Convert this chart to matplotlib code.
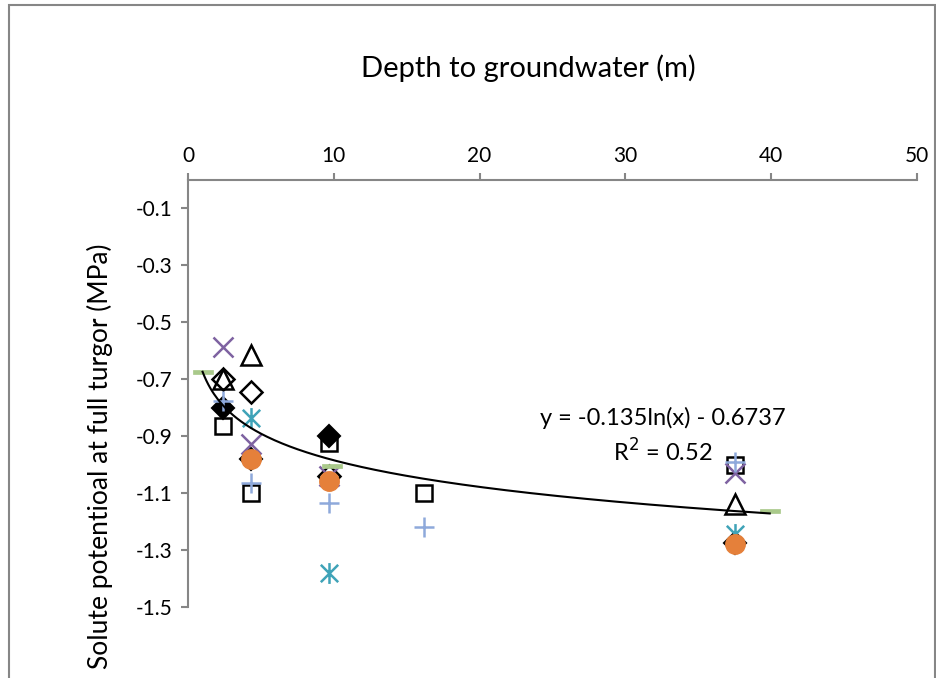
import numpy as np
import matplotlib
matplotlib.use("Agg")
import matplotlib.pyplot as plt
from matplotlib.path import Path
from matplotlib.patches import Rectangle

plt.rcParams['font.family'] = ['Lato', 'DejaVu Sans']

# ---- data ----
sq_x = [2.4, 4.3, 9.7, 16.2, 37.5]
sq_y = [-0.863, -1.10, -0.925, -1.10, -1.0]
fd_x = [2.4, 4.3, 9.7, 37.5]
fd_y = [-0.80, -0.98, -0.90, -1.275]
tri_x = [2.4, 4.3, 37.5]
tri_y = [-0.70, -0.616, -1.137]
cross_x = [2.4, 4.3, 9.7, 37.5]
cross_y = [-0.585, -0.926, -1.04, -1.03]
ast_x = [4.3, 9.7, 37.5]
ast_y = [-0.835, -1.38, -1.243]
circ_x = [4.3, 9.7, 37.5]
circ_y = [-0.98, -1.056, -1.28]
plus_x = [2.4, 4.3, 9.7, 16.2, 37.5]
plus_y = [-0.775, -1.063, -1.134, -1.22, -0.99]
od_x = [2.4, 4.3, 9.7]
od_y = [-0.70, -0.746, -1.04]
dash_x = [1.0, 9.9, 39.9]
dash_y = [-0.676, -1.003, -1.162]

trend_a = -0.135
trend_b = -0.6737
equation = "y = -0.135ln(x) - 0.6737"
r2_text = "R$^2$ = 0.52"

xticks = [0, 10, 20, 30, 40, 50]
yticks = [-0.1, -0.3, -0.5, -0.7, -0.9, -1.1, -1.3, -1.5]
ytick_labels = ["-0.1", "-0.3", "-0.5", "-0.7", "-0.9", "-1.1", "-1.3", "-1.5"]

# ---- figure ----
W, H = 937, 678
fig = plt.figure(figsize=(W / 100, H / 100), dpi=100)
ax = fig.add_axes([188 / W, 1 - 607 / H, (917 - 188) / W, (607 - 180) / H])
ax.patch.set_alpha(0)

gray = '#868686'
ax.set_xlim(0, 50)
ax.set_ylim(-1.5, 0)
ax.xaxis.tick_top()
ax.spines['bottom'].set_visible(False)
ax.spines['right'].set_visible(False)
for s in ('top', 'left'):
    ax.spines[s].set_color(gray)
    ax.spines[s].set_linewidth(1.5)
ax.set_xticks(xticks)
ax.set_yticks(yticks)
ax.set_yticklabels(ytick_labels)
ax.tick_params(axis='both', direction='out', length=5, width=1.5, color=gray,
               labelsize=15, pad=6)
ax.tick_params(axis='x', pad=5)

# asterisk marker (x plus vertical bar)
ast_path = Path([(-0.5, -0.5), (0.5, 0.5), (-0.5, 0.5), (0.5, -0.5), (0, -0.6), (0, 0.6)],
                [Path.MOVETO, Path.LINETO, Path.MOVETO, Path.LINETO, Path.MOVETO, Path.LINETO])
dash_path = Path([(-0.5, -0.12), (0.5, -0.12), (0.5, 0.12), (-0.5, 0.12), (-0.5, -0.12)],
                 [Path.MOVETO, Path.LINETO, Path.LINETO, Path.LINETO, Path.CLOSEPOLY])

ax.plot(sq_x, sq_y, ls='none', marker='s', ms=12, mfc='none', mec='black', mew=1.8, zorder=3, clip_on=False)
ax.plot(fd_x, fd_y, ls='none', marker='D', ms=11, mfc='black', mec='black', mew=1.5, zorder=4, clip_on=False)
ax.plot(od_x, od_y, ls='none', marker='D', ms=11, mfc='none', mec='black', mew=1.8, zorder=4.5, clip_on=False)
ax.plot(tri_x, tri_y, ls='none', marker='^', ms=14, mfc='none', mec='black', mew=1.8, zorder=5, clip_on=False)
ax.plot(cross_x, cross_y, ls='none', marker='x', ms=15, mec='#7E62A1', mew=1.8, zorder=6, clip_on=False)
ax.plot(ast_x, ast_y, ls='none', marker=ast_path, ms=15, mec='#3FA3B8', mfc='none', mew=1.8, zorder=7, clip_on=False)
ax.plot(circ_x, circ_y, ls='none', marker='o', ms=14, mfc='#E5803A', mec='#E5803A', mew=1, zorder=8, clip_on=False)
ax.plot(plus_x, plus_y, ls='none', marker='+', ms=14, mec='#8EA9DB', mew=1.8, zorder=9, clip_on=False)
ax.plot(dash_x, dash_y, ls='none', marker=dash_path, ms=15, mfc='#A9C98A', mec='#A9C98A', mew=0.5, zorder=11, clip_on=False)

all_x = sq_x + fd_x + tri_x + cross_x + ast_x + circ_x + plus_x + od_x + dash_x
tx = np.linspace(min(all_x), max(all_x), 300)
ax.plot(tx, trend_a * np.log(tx) + trend_b, color='black', lw=1.5, zorder=12)

ax.text(663 / W, 1 - 418 / H, equation, transform=fig.transFigure, ha='center', va='center', fontsize=17)
ax.text(663 / W, 1 - 452 / H, r2_text, transform=fig.transFigure, ha='center', va='center', fontsize=17)

fig.text(528 / W, 1 - 68 / H, "Depth to groundwater (m)", ha='center', va='center', fontsize=21)
fig.text(100 / W, 1 - 456 / H, "Solute potentioal at full turgor (MPa)", ha='center', va='center',
         rotation=90, fontsize=19)

# outer chart border
fig.patches.append(Rectangle((9 / W, -0.05), (935 - 9) / W, 1.05 - 5 / H, transform=fig.transFigure,
                             fill=False, edgecolor=gray, lw=1.5))

fig.savefig('out.png', dpi=100)
